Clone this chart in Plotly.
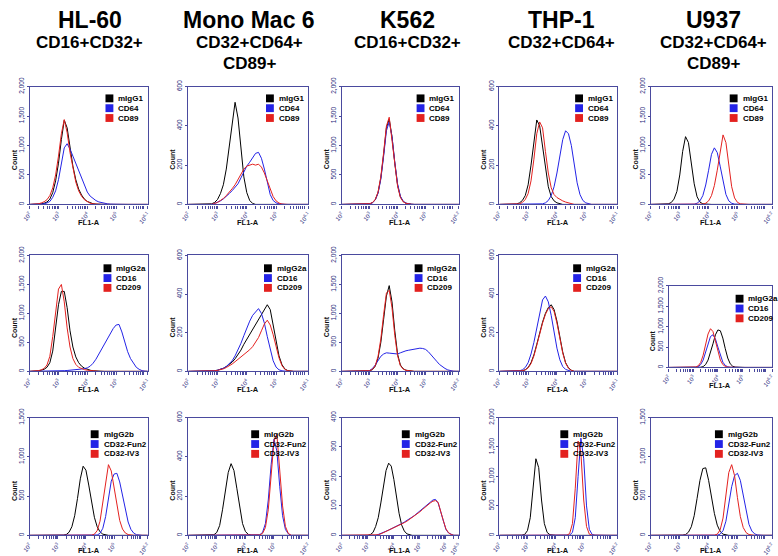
import plotly.graph_objects as go

W, H = 778, 556

# log10 fluorescence grid (FL1-A), shared by all histograms
LOGX = [2.0, 2.1, 2.2, 2.3, 2.4, 2.5, 2.6, 2.7, 2.8, 2.9,
        3.0, 3.1, 3.2, 3.3, 3.4, 3.5, 3.6, 3.7, 3.8, 3.9,
        4.0, 4.1, 4.2, 4.3, 4.4, 4.5, 4.6, 4.7, 4.8, 4.9,
        5.0, 5.1, 5.2, 5.3, 5.4, 5.5, 5.6, 5.7, 5.8, 5.9,
        6.0, 6.1, 6.2, 6.3, 6.4, 6.5]

CELL_LINES = ["HL-60", "Mono Mac 6", "K562", "THP-1", "U937"]
SUBTITLE_1 = ["CD16+CD32+", "CD32+CD64+", "CD16+CD32+", "CD32+CD64+", "CD32+CD64+"]
SUBTITLE_2 = ["", "CD89+", "", "", "CD89+"]
ROW_LABELS = [["mIgG1", "CD64", "CD89"],
              ["mIgG2a", "CD16", "CD209"],
              ["mIgG2b", "CD32-Fun2", "CD32-IV3"]]
SERIES_COLORS = ["#000000", "#2323e6", "#e3211f"]

# ---------------- Row 1: mIgG1 / CD64 / CD89 ----------------
HL60_MIGG1 = [0, 0, 0, 5, 10, 20, 40, 90, 200, 400,
              700, 1100, 1430, 1300, 950, 650, 420, 260, 160, 90,
              50, 25, 12, 5, 2, 0, 0, 0, 0, 0,
              0, 0, 0, 0, 0, 0, 0, 0, 0, 0, 0, 0]
HL60_CD64 = [0, 0, 0, 0, 5, 10, 25, 50, 120, 230,
             420, 720, 960, 1030, 940, 820, 700, 580, 440, 310,
             210, 140, 95, 65, 42, 28, 18, 10, 5, 2,
             0, 0, 0, 0, 0, 0, 0, 0, 0, 0, 0, 0]
HL60_CD89 = [0, 0, 0, 10, 25, 45, 80, 150, 280, 500,
             820, 1200, 1440, 1220, 880, 600, 380, 230, 140, 80,
             45, 20, 10, 4, 2, 0, 0, 0, 0, 0,
             0, 0, 0, 0, 0, 0, 0, 0, 0, 0, 0, 0]

MM6_MIGG1 = [0, 0, 0, 0, 0, 0, 0, 0, 3, 10,
             25, 55, 100, 180, 290, 420, 520, 440, 280, 140,
             60, 20, 5, 0, 0, 0, 0, 0, 0, 0,
             0, 0, 0, 0, 0, 0, 0, 0, 0, 0, 0, 0]
MM6_CD64 = [0, 0, 0, 0, 0, 0, 0, 0, 0, 5,
            10, 18, 28, 40, 55, 70, 85, 105, 135, 165,
            195, 215, 240, 260, 265, 235, 180, 110, 50, 20,
            8, 3, 0, 0, 0, 0, 0, 0, 0, 0, 0, 0]
MM6_CD89 = [0, 0, 0, 0, 0, 0, 0, 0, 0, 5,
            10, 20, 30, 45, 60, 80, 100, 125, 155, 180,
            195, 200, 205, 200, 205, 190, 160, 120, 75, 40,
            18, 7, 2, 0, 0, 0, 0, 0, 0, 0, 0, 0]

K562_MIGG1 = [0, 0, 0, 0, 0, 0, 0, 0, 0, 3,
              10, 30, 80, 200, 450, 850, 1300, 1450, 1150, 700,
              330, 130, 50, 20, 8, 3, 0, 0, 0, 0,
              0, 0, 0, 0, 0, 0, 0, 0, 0, 0, 0, 0, 0]
K562_CD64 = [0, 0, 0, 0, 0, 0, 0, 0, 0, 3,
             10, 28, 75, 190, 430, 820, 1250, 1400, 1150, 720,
             350, 140, 55, 22, 9, 3, 0, 0, 0, 0,
             0, 0, 0, 0, 0, 0, 0, 0, 0, 0, 0, 0, 0]
K562_CD89 = [0, 0, 0, 0, 0, 0, 0, 0, 0, 3,
             12, 32, 85, 210, 470, 880, 1330, 1480, 1120, 680,
             310, 120, 45, 18, 7, 2, 0, 0, 0, 0,
             0, 0, 0, 0, 0, 0, 0, 0, 0, 0, 0, 0, 0]

THP1_MIGG1 = [0, 0, 0, 0, 0, 0, 2, 8, 20, 45,
              100, 200, 330, 430, 400, 300, 180, 90, 40, 18,
              8, 3, 0, 0, 0, 0, 0, 0, 0, 0,
              0, 0, 0, 0, 0, 0, 0, 0, 0, 0, 0, 0]
THP1_CD64 = [0, 0, 0, 0, 0, 0, 0, 0, 0, 0,
             0, 0, 0, 0, 0, 3, 8, 20, 45, 90,
             160, 250, 330, 375, 360, 300, 200, 110, 50, 20,
             8, 3, 0, 0, 0, 0, 0, 0, 0, 0, 0, 0]
THP1_CD89 = [0, 0, 0, 0, 0, 0, 0, 3, 10, 25,
             55, 120, 230, 360, 420, 390, 270, 160, 85, 50,
             35, 25, 18, 12, 7, 3, 0, 0, 0, 0,
             0, 0, 0, 0, 0, 0, 0, 0, 0, 0, 0, 0]

U937_MIGG1 = [0, 0, 0, 0, 0, 3, 10, 30, 90, 220,
              500, 900, 1150, 1050, 700, 350, 130, 40, 10, 3,
              0, 0, 0, 0, 0, 0, 0, 0, 0, 0,
              0, 0, 0, 0, 0, 0, 0, 0, 0, 0, 0, 0, 0]
U937_CD64 = [0, 0, 0, 0, 0, 0, 0, 0, 0, 0,
             0, 0, 0, 0, 0, 5, 20, 60, 150, 330,
             580, 850, 960, 880, 650, 380, 170, 60, 20, 5,
             0, 0, 0, 0, 0, 0, 0, 0, 0, 0, 0, 0, 0]
U937_CD89 = [0, 0, 0, 0, 0, 0, 0, 0, 0, 0,
             0, 0, 0, 0, 0, 0, 0, 0, 5, 20,
             60, 150, 320, 580, 900, 1180, 1050, 650, 300, 110,
             35, 10, 3, 0, 0, 0, 0, 0, 0, 0, 0, 0, 0]

# ---------------- Row 2: mIgG2a / CD16 / CD209 ----------------
HL60_MIGG2A = [0, 0, 5, 10, 20, 35, 70, 150, 350, 750,
               1150, 1380, 1380, 1100, 700, 420, 250, 150, 90, 55,
               35, 20, 10, 5, 0, 0, 0, 0, 0, 0,
               0, 0, 0, 0, 0, 0, 0, 0, 0, 0, 0, 0]
HL60_CD16 = [0, 0, 0, 0, 2, 3, 4, 5, 6, 7,
             8, 10, 12, 15, 18, 22, 27, 33, 40, 48,
             60, 90, 140, 210, 300, 390, 480, 580, 670, 740,
             800, 810, 680, 500, 340, 220, 140, 70, 35, 12,
             4, 0]
HL60_CD209 = [0, 0, 5, 12, 25, 50, 110, 260, 600, 1050,
              1420, 1500, 1200, 750, 420, 220, 120, 70, 45, 30,
              20, 12, 6, 3, 0, 0, 0, 0, 0, 0,
              0, 0, 0, 0, 0, 0, 0, 0, 0, 0, 0, 0]

MM6_MIGG2A = [0, 0, 0, 0, 0, 0, 0, 0, 0, 3,
              6, 10, 16, 25, 35, 48, 65, 85, 110, 140,
              165, 190, 215, 240, 265, 290, 320, 345, 320, 240,
              150, 80, 35, 12, 4, 0, 0, 0, 0, 0, 0, 0]
MM6_CD16 = [0, 0, 0, 0, 0, 0, 0, 0, 0, 3,
            6, 10, 16, 25, 38, 55, 80, 110, 145, 185,
            225, 260, 290, 310, 325, 300, 250, 180, 110, 55,
            22, 8, 3, 0, 0, 0, 0, 0, 0, 0, 0, 0]
MM6_CD209 = [0, 0, 0, 0, 0, 0, 0, 0, 0, 3,
             5, 8, 13, 20, 28, 38, 50, 62, 75, 88,
             100, 112, 128, 150, 175, 210, 245, 265, 240, 190,
             130, 70, 30, 10, 3, 0, 0, 0, 0, 0, 0, 0]

K562_MIGG2A = [0, 0, 0, 0, 0, 0, 0, 0, 0, 3,
               10, 30, 90, 230, 500, 900, 1300, 1480, 1200, 700,
               300, 110, 45, 20, 10, 4, 0, 0, 0, 0,
               0, 0, 0, 0, 0, 0, 0, 0, 0, 0, 0, 0, 0]
K562_CD16 = [0, 0, 0, 0, 0, 0, 0, 0, 0, 5,
             15, 50, 110, 190, 260, 300, 320, 315, 310, 305,
             300, 320, 340, 355, 365, 375, 385, 395, 400, 395,
             380, 340, 290, 235, 175, 120, 80, 50, 25, 10,
             3, 0, 0]
K562_CD209 = [0, 0, 0, 0, 0, 0, 0, 0, 0, 3,
              12, 35, 100, 260, 560, 980, 1350, 1400, 1100, 620,
              270, 100, 40, 18, 8, 3, 0, 0, 0, 0,
              0, 0, 0, 0, 0, 0, 0, 0, 0, 0, 0, 0, 0]

THP1_MIGG2A = [0, 0, 0, 0, 0, 0, 0, 0, 3, 8,
               20, 45, 85, 140, 200, 255, 300, 330, 345, 320,
               260, 180, 100, 45, 18, 6, 0, 0, 0, 0,
               0, 0, 0, 0, 0, 0, 0, 0, 0, 0, 0, 0]
THP1_CD16 = [0, 0, 0, 0, 0, 0, 0, 3, 8, 20,
             45, 90, 150, 230, 310, 370, 390, 360, 290, 200,
             120, 60, 25, 10, 4, 0, 0, 0, 0, 0,
             0, 0, 0, 0, 0, 0, 0, 0, 0, 0, 0, 0]
THP1_CD209 = [0, 0, 0, 0, 0, 0, 0, 0, 3, 8,
              18, 40, 80, 135, 195, 250, 295, 325, 335, 310,
              250, 170, 95, 42, 16, 5, 0, 0, 0, 0,
              0, 0, 0, 0, 0, 0, 0, 0, 0, 0, 0, 0]

U937_MIGG2A = [0, 0, 0, 0, 0, 0, 0, 0, 0, 0,
               0, 0, 0, 5, 20, 70, 180, 360, 580, 800,
               920, 900, 720, 460, 230, 90, 30, 8, 2, 0,
               0, 0, 0, 0, 0, 0, 0, 0, 0, 0, 0, 0, 0]
U937_CD16 = [0, 0, 0, 0, 0, 0, 0, 0, 0, 0,
             0, 5, 20, 70, 180, 360, 580, 760, 800, 700,
             500, 290, 130, 50, 15, 4, 0, 0, 0, 0,
             0, 0, 0, 0, 0, 0, 0, 0, 0, 0, 0, 0, 0]
U937_CD209 = [0, 0, 0, 0, 0, 0, 0, 0, 0, 0,
              3, 10, 40, 120, 300, 560, 820, 950, 880, 650,
              380, 180, 70, 25, 8, 3, 0, 0, 0, 0,
              0, 0, 0, 0, 0, 0, 0, 0, 0, 0, 0, 0, 0]

# ---------------- Row 3: mIgG2b / CD32-Fun2 / CD32-IV3 ----------------
HL60_MIGG2B = [0, 0, 0, 0, 0, 0, 0, 0, 0, 0,
               0, 0, 3, 10, 40, 110, 250, 470, 720, 880,
               830, 640, 420, 230, 110, 45, 15, 5, 0, 0,
               0, 0, 0, 0, 0, 0, 0, 0, 0, 0, 0, 0, 0]
HL60_FUN2 = [0, 0, 0, 0, 0, 0, 0, 0, 0, 0,
             0, 0, 0, 0, 0, 0, 0, 0, 0, 0,
             0, 0, 0, 0, 5, 25, 90, 240, 470, 690,
             780, 790, 680, 500, 320, 170, 75, 28, 8, 2,
             0, 0, 0]
HL60_IV3 = [0, 0, 0, 0, 0, 0, 0, 0, 0, 0,
            0, 0, 0, 0, 0, 0, 0, 0, 0, 0,
            0, 0, 3, 15, 60, 180, 420, 720, 900, 820,
            600, 360, 190, 80, 30, 10, 3, 0, 0, 0,
            0, 0, 0]

MM6_MIGG2B = [0, 0, 0, 0, 0, 0, 0, 0, 0, 3,
              15, 50, 130, 230, 320, 365, 330, 240, 140, 60,
              20, 5, 0, 0, 0, 0, 0, 0, 0, 0,
              0, 0, 0, 0, 0, 0, 0, 0, 0, 0, 0, 0, 0]
MM6_FUN2 = [0, 0, 0, 0, 0, 0, 0, 0, 0, 0,
            0, 0, 0, 0, 0, 0, 0, 0, 0, 0,
            0, 0, 0, 0, 0, 3, 15, 60, 180, 360,
            490, 430, 250, 100, 30, 8, 0, 0, 0, 0,
            0, 0, 0]
MM6_IV3 = [0, 0, 0, 0, 0, 0, 0, 0, 0, 0,
           0, 0, 0, 0, 0, 0, 0, 0, 0, 0,
           0, 0, 0, 0, 0, 2, 10, 40, 130, 310,
           480, 515, 350, 150, 45, 10, 0, 0, 0, 0,
           0, 0, 0]

K562_MIGG2B = [0, 0, 0, 0, 0, 0, 0, 0, 0, 0,
               0, 3, 10, 30, 60, 110, 170, 220, 245, 235,
               190, 130, 75, 35, 15, 5, 2, 0, 0, 0,
               0, 0, 0, 0, 0, 0, 0, 0, 0, 0,
               0, 0, 0, 0, 0, 0]
K562_FUN2 = [0, 0, 0, 0, 0, 0, 0, 0, 0, 0,
             0, 0, 0, 0, 3, 6, 10, 14, 18, 22,
             26, 30, 35, 40, 45, 50, 56, 62, 68, 75,
             82, 90, 98, 105, 112, 120, 122, 110, 80, 45,
             20, 8, 3, 0, 0, 0]
K562_IV3 = [0, 0, 0, 0, 0, 0, 0, 0, 0, 0,
            0, 0, 0, 0, 2, 5, 9, 13, 17, 21,
            25, 29, 34, 38, 43, 48, 54, 60, 66, 73,
            80, 88, 96, 104, 110, 116, 118, 112, 85, 50,
            22, 9, 3, 0, 0, 0]

THP1_MIGG2B = [0, 0, 0, 0, 0, 0, 0, 0, 3, 15,
               80, 300, 800, 1300, 1150, 600, 200, 50, 10, 0,
               0, 0, 0, 0, 0, 0, 0, 0, 0, 0,
               0, 0, 0, 0, 0, 0, 0, 0, 0, 0, 0, 0, 0]
THP1_FUN2 = [0, 0, 0, 0, 0, 0, 0, 0, 0, 0,
             0, 0, 0, 0, 0, 0, 0, 0, 0, 0,
             0, 0, 0, 0, 0, 5, 50, 300, 1000, 1650,
             1300, 500, 100, 15, 3, 0, 0, 0, 0, 0,
             0, 0, 0]
THP1_IV3 = [0, 0, 0, 0, 0, 0, 0, 0, 0, 0,
            0, 0, 0, 0, 0, 0, 0, 0, 0, 0,
            0, 0, 0, 0, 3, 30, 200, 800, 1600, 1400,
            600, 150, 20, 3, 0, 0, 0, 0, 0, 0,
            0, 0, 0]

U937_MIGG2B = [0, 0, 0, 0, 0, 0, 0, 0, 0, 0,
               0, 3, 10, 40, 110, 250, 470, 700, 850, 860,
               700, 480, 280, 130, 50, 15, 4, 0, 0, 0,
               0, 0, 0, 0, 0, 0, 0, 0, 0, 0, 0, 0, 0]
U937_FUN2 = [0, 0, 0, 0, 0, 0, 0, 0, 0, 0,
             0, 0, 0, 0, 0, 0, 0, 0, 0, 0,
             0, 0, 0, 3, 15, 60, 180, 400, 620, 760,
             790, 700, 500, 290, 140, 55, 18, 5, 0, 0,
             0, 0, 0]
U937_IV3 = [0, 0, 0, 0, 0, 0, 0, 0, 0, 0,
            0, 0, 0, 0, 0, 0, 0, 0, 0, 0,
            0, 0, 3, 15, 70, 220, 500, 800, 900, 760,
            480, 240, 100, 35, 10, 3, 0, 0, 0, 0,
            0, 0, 0]

PANEL_SERIES = [
    [(HL60_MIGG1, HL60_CD64, HL60_CD89), (MM6_MIGG1, MM6_CD64, MM6_CD89),
     (K562_MIGG1, K562_CD64, K562_CD89), (THP1_MIGG1, THP1_CD64, THP1_CD89),
     (U937_MIGG1, U937_CD64, U937_CD89)],
    [(HL60_MIGG2A, HL60_CD16, HL60_CD209), (MM6_MIGG2A, MM6_CD16, MM6_CD209),
     (K562_MIGG2A, K562_CD16, K562_CD209), (THP1_MIGG2A, THP1_CD16, THP1_CD209),
     (U937_MIGG2A, U937_CD16, U937_CD209)],
    [(HL60_MIGG2B, HL60_FUN2, HL60_IV3), (MM6_MIGG2B, MM6_FUN2, MM6_IV3),
     (K562_MIGG2B, K562_FUN2, K562_IV3), (THP1_MIGG2B, THP1_FUN2, THP1_IV3),
     (U937_MIGG2B, U937_FUN2, U937_IV3)],
]

# axis extents (log10 max of FL1-A, count max, count step)
X_MAX = [[6.1, 6.1, 6.2, 6.1, 6.2],
         [6.1, 6.1, 6.2, 6.1, 6.2],
         [6.2, 6.2, 6.5, 6.2, 6.2]]
Y_MAX = [[2000, 600, 2000, 600, 2000],
         [2000, 600, 2000, 600, 2000],
         [1500, 600, 400, 2000, 1500]]
Y_STEP = [[500, 200, 500, 200, 500],
          [500, 200, 500, 200, 500],
          [500, 200, 100, 500, 500]]

# ---------------- layout geometry (pixels) ----------------
COL_L = [21, 182, 338, 498, 652]
COL_R = [141, 304, 457, 618, 775]
ROW_T = [79, 251, 416]
ROW_B = [199, 369, 536]
LEG_DX = [43, 45, 58]      # legend square offset from right edge
LEG_DY = [12, 13, 17]      # first legend row offset from top
XLAB_DY = [18, 18, 15]     # FL1-A label offset below the axis
COL_CX = [82, 244, 405, 561, 716]


def panel_box(r, c):
    L, R, T, B = COL_L[c], COL_R[c], ROW_T[r], ROW_B[r]
    if r == 1 and c == 4:       # smaller inset panel in the original figure
        L, R, T, B = 670, 775, 282, 365
    return L, R, T, B


def px(x):
    return x / W


def py(y):
    return 1 - y / H


AX = "#4a4a9e"
TICKC = "#26267a"
FONT = "Liberation Sans, Arial, sans-serif"

fig = go.Figure()
annotations = []
shapes = []

MINOR = []
for k in range(2, 7):
    for m in range(2, 10):
        MINOR.append(m * 10 ** k)

for r in range(3):
    for c in range(5):
        k = r * 5 + c + 1
        sx = "" if k == 1 else str(k)
        L, R, T, B = panel_box(r, c)
        xmax = X_MAX[r][c]
        tv = [100, 1000, 10000, 100000]
        tt = ["10<sup>2</sup>", "10<sup>3</sup>", "10<sup>4</sup>", "10<sup>5</sup>"]
        if xmax >= 6.4:
            tv.append(1e6)
            tt.append("10<sup>6</sup>")
        tv.append(10 ** xmax)
        tt.append("10<sup>%g</sup>" % xmax)
        fig.update_layout(**{
            "xaxis" + sx: dict(
                domain=[px(L), px(R)], anchor="y" + sx, type="log",
                range=[2, xmax], showgrid=False, zeroline=False,
                showline=True, mirror=True, linecolor=AX, linewidth=1.2,
                tickmode="array", tickvals=tv, ticktext=tt, tickangle=-50,
                ticks="outside", ticklen=3, tickcolor=AX,
                tickfont=dict(size=6, color=TICKC, family=FONT),
                minor=dict(tickmode="array", tickvals=MINOR, ticks="outside",
                           ticklen=3, tickcolor=AX, tickwidth=1),
            ),
            "yaxis" + sx: dict(
                domain=[py(B), py(T)], anchor="x" + sx,
                range=[0, Y_MAX[r][c]], dtick=Y_STEP[r][c], tick0=0,
                showgrid=False, zeroline=False, showline=True, mirror=True,
                linecolor=AX, linewidth=1.2, ticks="outside", ticklen=2,
                tickcolor=AX, tickangle=-90, tickformat=",d",
                tickfont=dict(size=6.5, color=TICKC, family=FONT),
            ),
        })
        series = PANEL_SERIES[r][c]
        for s_i in [0, 1, 2]:
            ys = series[s_i]
            xs = [10 ** v for v in LOGX[:len(ys)]]
            fig.add_trace(go.Scatter(
                x=xs, y=ys, mode="lines", xaxis="x" + sx, yaxis="y" + sx,
                line=dict(color=SERIES_COLORS[s_i], width=1),
                name=ROW_LABELS[r][s_i], showlegend=False, hoverinfo="skip"))

        # legend (squares + labels)
        dx = 37 if (r == 1 and c == 4) else LEG_DX[r]
        for j in range(3):
            cy = T + LEG_DY[r] + 10 * j
            sq_l = R - dx
            shapes.append(dict(type="rect", xref="paper", yref="paper",
                               x0=px(sq_l), x1=px(sq_l + 8),
                               y0=py(cy + 4), y1=py(cy - 4),
                               fillcolor=SERIES_COLORS[j], line=dict(width=0)))
            annotations.append(dict(
                x=px(sq_l + 11), y=py(cy), xref="paper", yref="paper",
                text="<b>%s</b>" % ROW_LABELS[r][j], showarrow=False,
                xanchor="left", yanchor="middle",
                font=dict(size=8, color="#000000", family=FONT)))

        # axis titles
        annotations.append(dict(
            x=px(L - 16), y=py((T + B) / 2 + 14), xref="paper", yref="paper",
            text="<b>Count</b>", textangle=-90, showarrow=False,
            xanchor="center", yanchor="middle",
            font=dict(size=7, color="#111111", family=FONT)))
        annotations.append(dict(
            x=px((L + R) / 2), y=py(B + XLAB_DY[r]), xref="paper", yref="paper",
            text="<b>FL1-A</b>", showarrow=False,
            xanchor="center", yanchor="middle",
            font=dict(size=7.5, color="#111111", family=FONT)))

# column headers
for c in range(5):
    annotations.append(dict(
        x=px(COL_CX[c]), y=py(11), xref="paper", yref="paper",
        text="<b>%s</b>" % CELL_LINES[c], showarrow=False,
        xanchor="center", yanchor="middle",
        font=dict(size=23, color="#000000", family=FONT)))
    annotations.append(dict(
        x=px(COL_CX[c]), y=py(34), xref="paper", yref="paper",
        text="<b>%s</b>" % SUBTITLE_1[c], showarrow=False,
        xanchor="center", yanchor="middle",
        font=dict(size=17, color="#000000", family=FONT)))
    if SUBTITLE_2[c]:
        annotations.append(dict(
            x=px(COL_CX[c]), y=py(56), xref="paper", yref="paper",
            text="<b>%s</b>" % SUBTITLE_2[c], showarrow=False,
            xanchor="center", yanchor="middle",
            font=dict(size=17, color="#000000", family=FONT)))

fig.update_layout(
    width=W, height=H, margin=dict(l=0, r=0, t=0, b=0),
    paper_bgcolor="white", plot_bgcolor="white",
    font=dict(family=FONT), showlegend=False,
    annotations=annotations, shapes=shapes,
)

fig.write_html("out.html",
               config={"displayModeBar": False},
               post_script="document.body.style.margin='0px';"
                           "document.body.style.overflow='hidden';")
